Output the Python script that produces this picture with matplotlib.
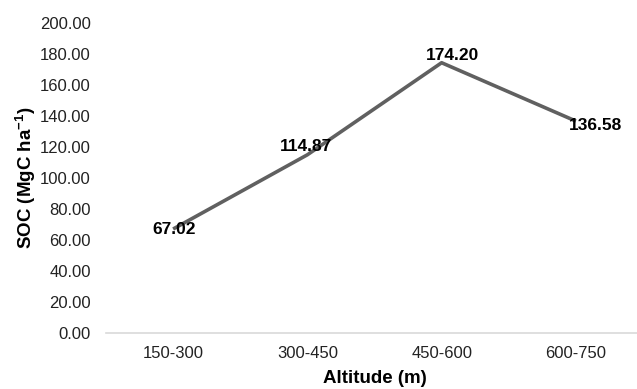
import matplotlib.pyplot as plt

plt.rcParams['font.family'] = ['Liberation Sans', 'DejaVu Sans']
plt.rcParams['mathtext.fontset'] = 'custom'
plt.rcParams['mathtext.rm'] = 'Liberation Sans'
plt.rcParams['mathtext.bf'] = 'Liberation Sans:bold'

altitudes = ["150-300", "300-450", "450-600", "600-750"]
soc = [67.02, 114.87, 174.20, 136.58]
# label offsets in points (dx, dy) so the numbers sit around the line
label_offsets = [(1, 0), (-1, 6), (8, 5), (14, -3)]

fig = plt.figure(figsize=(6.37, 3.89), dpi=100)
ax = fig.add_axes([106 / 637, 1 - 333 / 389, (643 - 106) / 637, (333 - 22.7) / 389])

x = range(len(altitudes))
ax.plot(x, soc, color='#606060', linewidth=2.6, solid_capstyle='butt', zorder=2)

for xi, val, (dx, dy) in zip(x, soc, label_offsets):
    ax.annotate(f"{val:.2f}", (xi, val), xytext=(dx, dy), textcoords='offset points',
                ha='center', va='center', fontsize=12.5, fontweight='bold', color='black', zorder=3)

ax.set_xlim(-0.5, 3.5)
ax.set_ylim(0, 200)
ax.set_yticks(range(0, 201, 20))
ax.set_yticklabels([f"{v:.2f}" for v in range(0, 201, 20)])
ax.set_xticks(list(x))
ax.set_xticklabels(altitudes)

for side in ['top', 'right', 'left']:
    ax.spines[side].set_visible(False)
ax.spines['bottom'].set_color('#d9d9d9')
ax.spines['bottom'].set_linewidth(1.2)
ax.tick_params(axis='both', length=0, labelsize=12, colors='#222222')
ax.tick_params(axis='y', pad=11)
ax.tick_params(axis='x', pad=9)

ax.set_ylabel("SOC (MgC ha$^{\\mathbf{-1}}$)", fontsize=13.5, fontweight='bold', labelpad=1)
ax.set_xlabel("Altitude (m)", fontsize=13.5, fontweight='bold', labelpad=7)

fig.savefig("out.png", dpi=100)
